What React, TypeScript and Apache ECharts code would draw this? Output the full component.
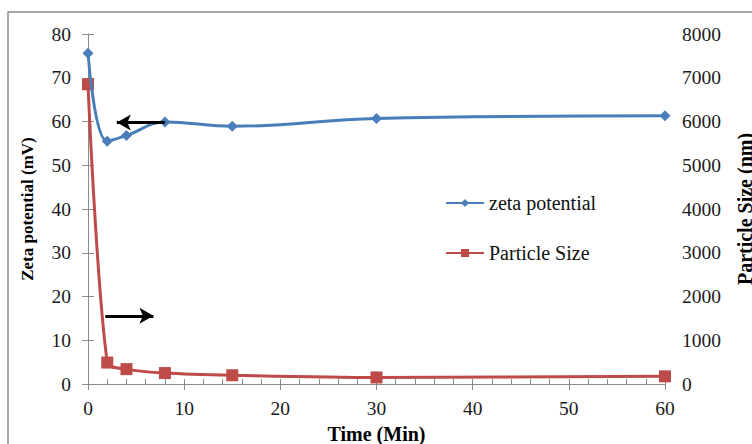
import React, { useEffect, useRef } from "react";
import * as echarts from "echarts";

const times = [0, 2, 4, 8, 15, 30, 60];
const zetaPotential = [75.6, 55.5, 56.8, 59.9, 58.9, 60.7, 61.3];
const particleSize = [6850, 490, 340, 250, 200, 150, 175];
const xTicks = [0, 10, 20, 30, 40, 50, 60];
const arrowLeft = { from: [8.0, 59.8], to: [3.0, 59.8] };
const arrowRight = { from: [1.8, 15.6], to: [6.8, 15.6] };

const FONT = "Liberation Serif";
const BLUE = "#4a7ebb";
const RED = "#be4b48";
const AXIS = "#8c8c8c";

export default function App() {
  const ref = useRef<HTMLDivElement>(null);
  useEffect(() => {
    if (!ref.current) return;
    const chart = echarts.init(ref.current, undefined, { renderer: "svg" });
    const labelStyle = { fontFamily: FONT, fontSize: 19.5, color: "#1a1a1a" };
    chart.setOption({
      animation: false,
      backgroundColor: "#fff",
      textStyle: { fontFamily: FONT },
      graphic: [
        {
          type: "rect",
          shape: { x: 8, y: 12, width: 800, height: 500 },
          style: { fill: "none", stroke: "#8a8a8a", lineWidth: 1.5 },
          silent: true,
        },
      ],
      grid: { left: 88, right: 87, top: 34, bottom: 60, outerBoundsMode: "none", containLabel: false },
      legend: {
        orient: "vertical",
        left: 440,
        top: 188,
        itemGap: 30,
        itemWidth: 38,
        itemHeight: 10,
        textStyle: { fontFamily: FONT, fontSize: 20, color: "#111" },
        data: ["zeta potential", "Particle Size"],
      },
      xAxis: [
        {
          type: "value",
          min: 0,
          max: 60,
          interval: 10,
          name: "Time (Min)",
          nameLocation: "middle",
          nameGap: 40,
          nameTextStyle: { fontFamily: FONT, fontSize: 20, fontWeight: "bold", color: "#000" },
          axisLine: { show: true, lineStyle: { color: AXIS, width: 1 } },
          axisTick: { show: true, length: 6, lineStyle: { color: AXIS } },
          axisLabel: {
            ...labelStyle,
            margin: 14,
            formatter: (v: number) => (xTicks.includes(v) ? String(v) : ""),
          },
          splitLine: { show: false },
        },
        {
          type: "value",
          min: 0,
          max: 60,
          interval: 2,
          position: "bottom",
          axisLine: { show: false },
          axisTick: { show: true, inside: true, length: 5, lineStyle: { color: AXIS } },
          axisLabel: { show: false },
          splitLine: { show: false },
        },
      ],
      yAxis: [
        {
          type: "value",
          min: 0,
          max: 80,
          interval: 10,
          position: "left",
          name: "Zeta potential (mV)",
          nameLocation: "middle",
          nameRotate: 90,
          nameGap: 52,
          nameTextStyle: { fontFamily: FONT, fontSize: 17, fontWeight: "bold", color: "#000" },
          axisLine: { show: true, lineStyle: { color: AXIS, width: 1 } },
          axisTick: { show: true, length: 6, lineStyle: { color: AXIS } },
          axisLabel: { ...labelStyle, margin: 17 },
          splitLine: { show: false },
        },
        {
          type: "value",
          min: 0,
          max: 8000,
          interval: 1000,
          position: "right",
          name: "Particle Size (nm)",
          nameLocation: "middle",
          nameRotate: 90,
          nameGap: 70,
          nameTextStyle: { fontFamily: FONT, fontSize: 20, fontWeight: "bold", color: "#000" },
          axisLine: { show: true, lineStyle: { color: AXIS, width: 1 } },
          axisTick: { show: true, length: 6, lineStyle: { color: AXIS } },
          axisLabel: { ...labelStyle, margin: 17, formatter: (v: number) => String(v) },
          splitLine: { show: false },
        },
      ],
      series: [
        {
          name: "zeta potential",
          type: "line",
          xAxisIndex: 0,
          yAxisIndex: 0,
          smooth: 0.4,
          symbol: "diamond",
          symbolSize: 11,
          data: times.map((t, i) => [t, zetaPotential[i]]),
          itemStyle: { color: BLUE },
          lineStyle: { color: BLUE, width: 3 },
          z: 3,
          markLine: {
            silent: true,
            symbol: ["none", "arrow"],
            symbolSize: [12, 14],
            label: { show: false },
            lineStyle: { color: "#000", width: 3, type: "solid" },
            data: [
              [{ coord: arrowLeft.from }, { coord: arrowLeft.to }],
              [{ coord: arrowRight.from }, { coord: arrowRight.to }],
            ],
          },
        },
        {
          name: "Particle Size",
          type: "line",
          xAxisIndex: 0,
          yAxisIndex: 1,
          smooth: 0.3,
          symbol: "rect",
          symbolSize: 12,
          data: times.map((t, i) => [t, particleSize[i]]),
          itemStyle: { color: RED },
          lineStyle: { color: RED, width: 3 },
          z: 2,
        },
      ],
    });
    return () => chart.dispose();
  }, []);
  return (
    <div
      ref={ref}
      style={{ position: "fixed", left: 0, top: 0, width: 752, height: 444, background: "#fff" }}
    />
  );
}
